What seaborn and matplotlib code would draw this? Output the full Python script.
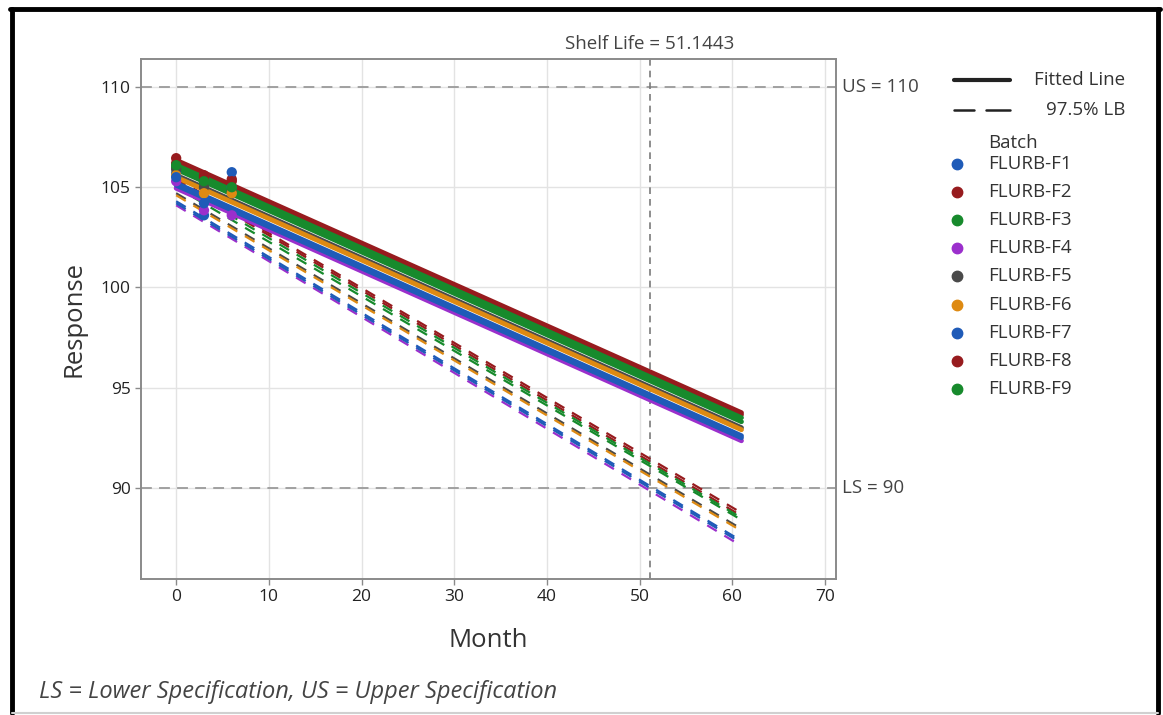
import pandas as pd
import numpy as np
import matplotlib.pyplot as plt
from matplotlib.lines import Line2D
import seaborn as sns

# Batches and colours (Minitab style)
batches = ['FLURB-F1', 'FLURB-F2', 'FLURB-F3', 'FLURB-F4', 'FLURB-F5',
           'FLURB-F6', 'FLURB-F7', 'FLURB-F8', 'FLURB-F9']
colors = ['#1F5BB8', '#971B1E', '#178A2C', '#9B2FCC', '#4A4A4A',
          '#DE8A12', '#1F5BB8', '#971B1E', '#178A2C']

# Observed responses at months 0, 3, 6
months = [0, 3, 6]
resp_f1 = [105.7, 103.6, 105.0]
resp_f2 = [106.45, 105.6, 105.4]
resp_f3 = [106.0, 105.2, 104.9]
resp_f4 = [105.3, 103.85, 103.6]
resp_f5 = [105.9, 105.0, 104.8]
resp_f6 = [105.6, 104.7, 104.7]
resp_f7 = [105.5, 104.2, 105.75]
resp_f8 = [106.2, 105.5, 105.3]
resp_f9 = [106.1, 105.3, 105.0]
responses = [resp_f1, resp_f2, resp_f3, resp_f4, resp_f5,
             resp_f6, resp_f7, resp_f8, resp_f9]

# Fitted line and 97.5% lower bound at the ends of the plotted range
line_months = [0, 61]
fit_start = [105.2, 106.35, 105.9, 104.95, 105.6, 105.5, 105.1, 106.25, 106.1]
fit_end = [92.6, 93.75, 93.3, 92.35, 93.0, 92.9, 92.5, 93.65, 93.5]
lb_start = [104.3, 105.45, 105.0, 104.1, 104.7, 104.6, 104.2, 105.35, 105.2]
lb_end = [87.35, 88.75, 88.4, 87.1, 87.95, 87.85, 87.25, 88.6, 88.5]

shelf_life = 51.1443
lower_spec = 90
upper_spec = 110

# Long tables
pts = pd.DataFrame([(b, m, r) for b, rs in zip(batches, responses)
                    for m, r in zip(months, rs)],
                   columns=['Batch', 'Month', 'Response'])
lines = pd.DataFrame([(b, line_months[0], fs, ls) for b, fs, ls in zip(batches, fit_start, lb_start)] +
                     [(b, line_months[1], fe, le) for b, fe, le in zip(batches, fit_end, lb_end)],
                     columns=['Batch', 'Month', 'Fit', 'LB'])
palette = dict(zip(batches, colors))

sns.set_style('white')
plt.rcParams['font.family'] = ['Open Sans', 'DejaVu Sans']

fig = plt.figure(figsize=(11.63, 7.15), dpi=100)
ax = fig.add_axes([0.1212, 0.1902, 0.7188 - 0.1212, 0.9175 - 0.1902])

# Grid
ax.set_axisbelow(True)
ax.grid(True, color='#e3e3e3', lw=1)

# Spec lines and shelf life
ax.axhline(upper_spec, color='#9a9a9a', ls=(0, (6, 4)), lw=1.3, zorder=1)
ax.axhline(lower_spec, color='#9a9a9a', ls=(0, (6, 4)), lw=1.3, zorder=1)
ax.axvline(shelf_life, color='#7a7a7a', ls=(0, (4, 3)), lw=1.2, zorder=1)

# Lower bounds (dashed)
for b in batches:
    d = lines[lines['Batch'] == b]
    sns.lineplot(data=d, x='Month', y='LB', color=palette[b], lw=1.6,
                 ax=ax, legend=False, zorder=2)
for l in ax.lines[3:]:
    l.set_linestyle((0, (5, 4)))

# Fitted lines
sns.lineplot(data=lines, x='Month', y='Fit', hue='Batch', palette=palette,
             lw=3.5, ax=ax, legend=False, zorder=3)

# Observations
sns.scatterplot(data=pts, x='Month', y='Response', hue='Batch', palette=palette,
                s=55, edgecolor='none', ax=ax, legend=False, zorder=4)

ax.set_xlim(-3.8, 71.2)
ax.set_ylim(85.45, 111.4)
ax.set_xticks(range(0, 71, 10))
ax.set_yticks([90, 95, 100, 105, 110])
ax.tick_params(axis='both', labelsize=12.5, colors='#8a8a8a', labelcolor='#222222',
               length=4, width=1, direction='out', bottom=True, left=True)
for s in ax.spines.values():
    s.set_color('#8a8a8a')
    s.set_linewidth(1.4)
ax.set_xlabel('Month', fontsize=18.5, color='#333333', labelpad=16)
ax.set_ylabel('Response', fontsize=18.5, color='#333333', labelpad=10)

# Annotations
ax.text(shelf_life, 1.012, 'Shelf Life = 51.1443', transform=ax.get_xaxis_transform(),
        ha='center', va='bottom', fontsize=13.5, color='#444444')
ax.annotate('US = 110', xy=(1, upper_spec), xycoords=('axes fraction', 'data'),
            xytext=(4.5, 0), textcoords='offset points', va='center', fontsize=13.5,
            color='#444444')
ax.annotate('LS = 90', xy=(1, lower_spec), xycoords=('axes fraction', 'data'),
            xytext=(4.5, 0), textcoords='offset points', va='center', fontsize=13.5,
            color='#444444')

# Legend: line types
W, H = 1163, 715
def fx(px):
    return px / W
def fy(py):
    return 1 - py / H

fig.add_artist(Line2D([fx(954), fx(1010)], [fy(80), fy(80)], color='#222222', lw=3))
fig.add_artist(Line2D([fx(954), fx(974)], [fy(110), fy(110)], color='#222222', lw=1.8))
fig.add_artist(Line2D([fx(986), fx(1010)], [fy(110), fy(110)], color='#222222', lw=1.8))
fig.text(fx(1125), fy(80), 'Fitted Line', ha='right', va='center', fontsize=13.5, color='#333333')
fig.text(fx(1125), fy(110), '97.5% LB', ha='right', va='center', fontsize=13.5, color='#333333')

# Legend: batches
fig.text(fx(988), fy(143), 'Batch', ha='left', va='center', fontsize=13.5, color='#333333')
for i, (b, c) in enumerate(zip(batches, colors)):
    y = fy(164 + 28.1 * i)
    fig.add_artist(Line2D([fx(957)], [y], marker='o', ms=7.5, color=c, ls='none'))
    fig.text(fx(988), y, b, ha='left', va='center', fontsize=13.5, color='#333333')

# Footnote
fig.text(fx(39), fy(692), 'LS = Lower Specification, US = Upper Specification',
         ha='left', va='center', fontsize=17, style='italic', color='#444444')

# Outer frame: black on left, top, right; thin grey at the bottom
fig.add_artist(Line2D([fx(12), fx(12)], [fy(713), fy(9)], color='black', lw=3.5))
fig.add_artist(Line2D([fx(1158), fx(1158)], [fy(713), fy(9)], color='black', lw=3.5))
fig.add_artist(Line2D([fx(10), fx(1160)], [fy(9), fy(9)], color='black', lw=3.5))
fig.add_artist(Line2D([fx(12), fx(1158)], [fy(713), fy(713)], color='#d0d0d0', lw=1.5))

fig.savefig('out.png', dpi=100)
